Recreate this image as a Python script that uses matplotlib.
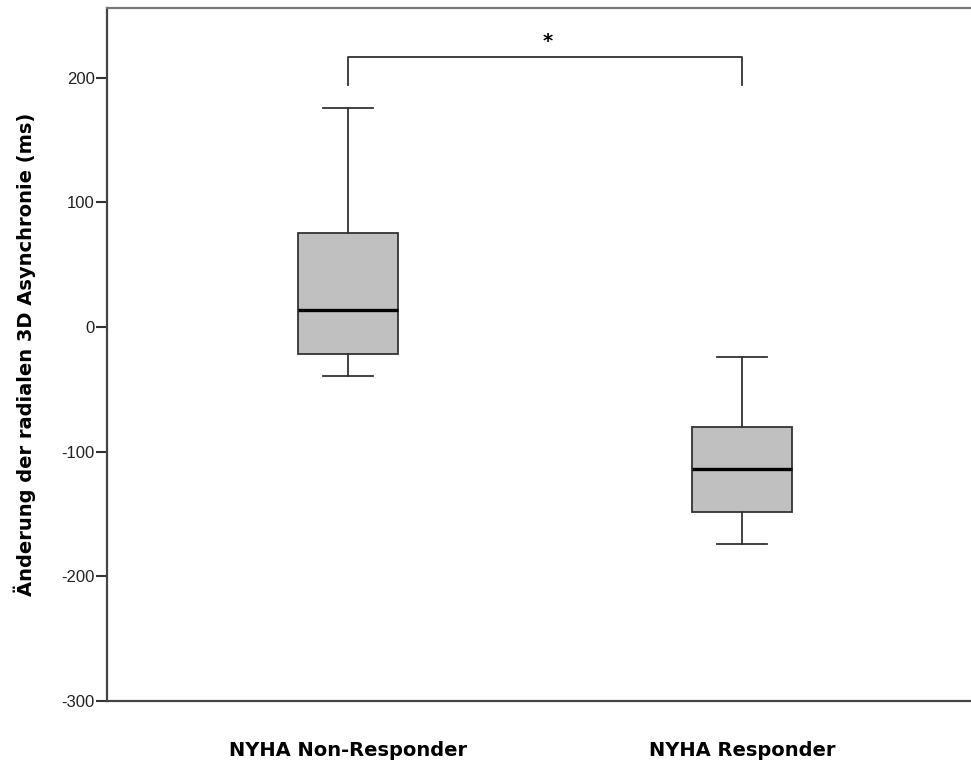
import matplotlib.pyplot as plt

# Kennwerte (ms)
groups = ['NYHA Non-Responder', 'NYHA Responder']
whislo = [-39, -174]
q1 = [-21.5, -148.5]
med = [13.5, -114]
q3 = [75.5, -80]
whishi = [176, -24]

yticks = [200, 100, 0, -100, -200, -300]
sig_label = '*'
bracket_low, bracket_high = 194, 217

stats = []
for i in range(len(groups)):
    stats.append(dict(label=groups[i], whislo=whislo[i], q1=q1[i], med=med[i],
                      q3=q3[i], whishi=whishi[i], fliers=[]))

fig = plt.figure(figsize=(9.71, 7.67), dpi=100)
ax = fig.add_axes([107 / 971, 66 / 767, 1 - 107 / 971, (701 - 8) / 767])

edge = '#333333'
ax.bxp(stats, positions=[1, 2], widths=0.254, patch_artist=True,
       boxprops=dict(facecolor='#c0c0c0', edgecolor=edge, linewidth=1.3),
       medianprops=dict(color='black', linewidth=2.4),
       whiskerprops=dict(color=edge, linewidth=1.3),
       capprops=dict(color=edge, linewidth=1.3))

# Signifikanzklammer
ax.plot([1, 1, 2, 2], [bracket_low, bracket_high, bracket_high, bracket_low],
        color=edge, linewidth=1.3)
ax.text(1.508, 229, sig_label, ha='center', va='center', fontsize=14,
        fontweight='bold', family='DejaVu Sans')

ax.set_xlim(1 - 241 / 394, 2 + 229 / 394)
ax.set_ylim(-300, 256)
ax.set_yticks(yticks)
ax.set_yticklabels([str(t) for t in yticks], family='Liberation Sans',
                   fontsize=12, color='#222222')
ax.set_xticklabels(groups, fontweight='bold', fontsize=14, family='DejaVu Sans')
ax.tick_params(axis='x', length=0, pad=29)
ax.tick_params(axis='y', length=8, width=1.5, color='#333333', pad=1)

for s in ['left', 'bottom', 'top']:
    ax.spines[s].set_color('#444444')
    ax.spines[s].set_linewidth(1.6)
ax.spines['top'].set_color('#777777')
ax.spines['right'].set_visible(False)

ax.set_ylabel('Änderung der radialen 3D Asynchronie (ms)', fontweight='bold',
              fontsize=14, family='DejaVu Sans', labelpad=18)

fig.savefig('out.png', dpi=100)
